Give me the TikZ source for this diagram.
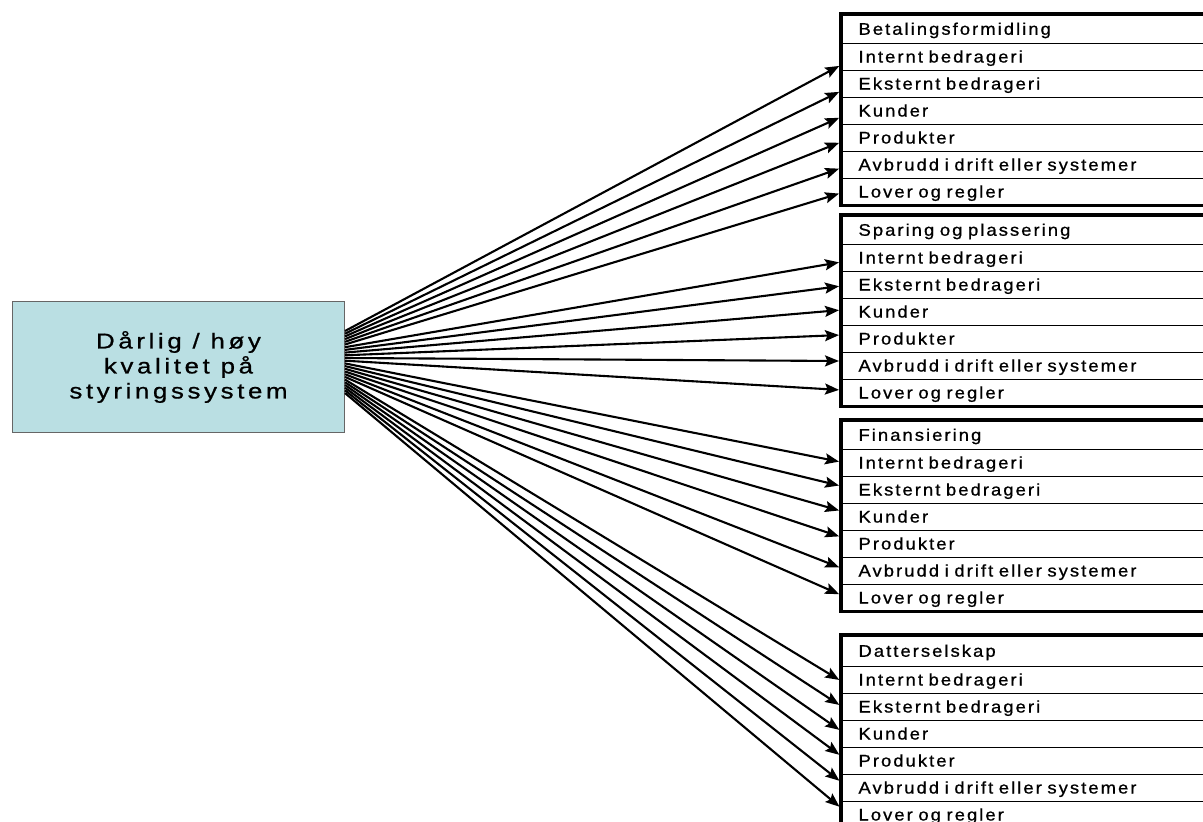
\documentclass[tikz,border=0pt]{standalone}
\usepackage{fontspec}
\setmainfont{Liberation Sans}
\newfontfamily\rowfont[FakeStretch=1.1,LetterSpace=12,FakeBold=0.8]{Liberation Sans}
\newfontfamily\srcfont[FakeStretch=1.2,LetterSpace=17,FakeBold=0.8]{Liberation Sans}
\usetikzlibrary{arrows.meta}
\definecolor{srcfill}{RGB}{186,223,227}
\begin{document}
\begin{tikzpicture}[x=1pt,y=-1pt,
  rowbox/.style={draw=black, line width=1pt, anchor=north west,
    minimum width=420pt, text width=386pt, align=left,
    inner xsep=17pt, inner ysep=0pt, text height=12pt, text depth=0pt,
    font=\rowfont\fontsize{16.8}{20}\selectfont},
  frame/.style={draw=black, line width=3.2pt},
  srcbox/.style={draw=black!60, line width=1pt, fill=srcfill, anchor=north west,
    minimum width=332pt, minimum height=131pt, align=center,
    font=\srcfont\fontsize{21.5}{25}\selectfont},
  arr/.style={draw=black, line width=2.1pt, shorten >=2pt,
    -{Stealth[length=14pt,width=11pt,inset=2.5pt]}}]
\useasboundingbox (0,0) rectangle (1203,822);
\fill[white] (0,0) rectangle (1203,822);
\clip (0,0) rectangle (1203,822);

% source box
\node[srcbox] (src) at (12,301) {Dårlig / høy\\kvalitet på\\styringssystem};

% the four process tables
\foreach \g/\top/\hh/\title in {1/14/28.5/Betalingsformidling,
    2/215/28.5/Sparing og plassering,
    3/420/28.5/Finansiering,
    4/635/30.5/Datterselskap}{
  \node[rowbox, minimum height=\hh pt] (g\g h) at (841,\top) {\title};
  \foreach \lab [count=\i] in {Internt bedrageri, Eksternt bedrageri, Kunder,
      Produkter, Avbrudd i drift eller systemer, Lover og regler}{
    \node[rowbox, minimum height=27pt] (g\g r\i) at (841,{\top+\hh+27*(\i-1)}) {\lab};
  }
}

% arrows from the source box to every risk row
\foreach \g/\tips in {1/{65,91,117,142,168,193},
    2/{262,286,310,335,361,390},
    3/{462,486,511,537,568,595},
    4/{681,706,731,756,782,808}}{
  \foreach \t [count=\i] in \tips{
    \pgfmathsetmacro{\sy}{331+2.7*(6*(\g-1)+\i-1)}
    \draw[arr] (src.east |- 0,\sy) -- (g\g r\i.west |- 0,\t);
  }
}

% heavy frames drawn over the arrow ends
\foreach \g in {1,2,3,4}{
  \draw[frame] (g\g h.north west) rectangle (g\g r6.south east);
}
\end{tikzpicture}
\end{document}
